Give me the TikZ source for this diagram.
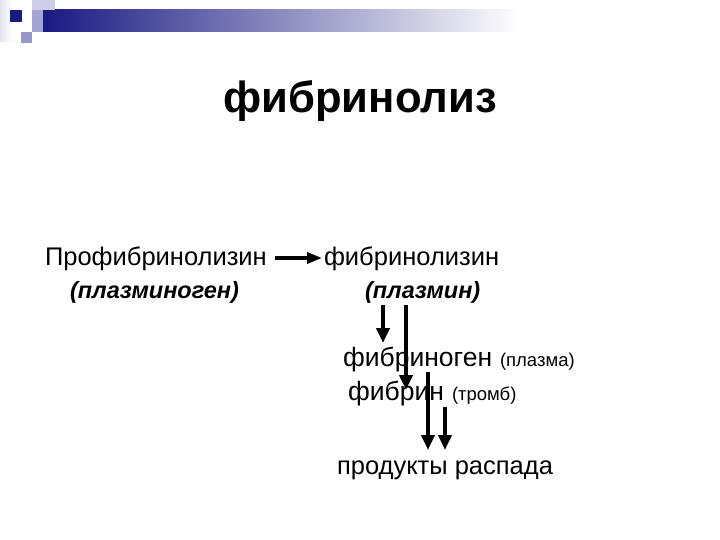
\documentclass[tikz,border=0pt]{standalone}
\usepackage{fontspec}
\setmainfont{Liberation Sans}
\usetikzlibrary{arrows.meta}
\definecolor{navy}{RGB}{25,25,130}
\definecolor{lav1}{RGB}{205,205,232}
\definecolor{lav2}{RGB}{165,165,212}
\definecolor{lav3}{RGB}{150,150,200}
\definecolor{lav0}{RGB}{228,228,242}
\tikzset{
  txt/.style={anchor=base west, inner sep=0pt, outer sep=0pt, text=black},
  big/.style={txt, font=\fontsize{25.5}{28}\selectfont},
  bigger/.style={txt, font=\fontsize{26.5}{30}\selectfont},
  bigi/.style={txt, font=\fontsize{23.5}{26}\selectfont\bfseries\itshape},
  small/.style={txt, font=\fontsize{18.5}{22}\selectfont},
  arr/.style={line width=4.8pt, -{Triangle[length=15pt,width=13pt]}},
}
\begin{document}
\begin{tikzpicture}[x=1pt,y=-1pt]
\useasboundingbox (0,0) rectangle (720,540);
% header decoration
\shade[left color=lav0, right color=white] (0,0) rectangle (12,42);
\shade[left color=navy, right color=white] (43,10) rectangle (520,32);
\fill[lav1] (32,0) rectangle (55,10);
\fill[lav2] (32,10) rectangle (43,32);
\fill[navy] (10,10) rectangle (22,22);
\fill[lav3] (21,32) rectangle (32,43);
% title
\node[txt, font=\fontsize{43.6}{50}\selectfont\bfseries, anchor=base] (title) at (360,113) {фибринолиз};
% texts
\node[big] (pro) at (45,265) {Профибринолизин};
\node[bigi] (plg) at (70,298) {(плазминоген)};
\node[big] (fbl) at (324,265) {фибринолизин};
\node[bigi] (plm) at (365,298) {(плазмин)};
\node[bigger] (fbg) at (343,366) {фибриноген};
\node[small] (pls) at (500,366) {(плазма)};
\node[bigger] (fbn) at (348,400) {фибрин};
\node[small] (trb) at (452,400) {(тромб)};
\node[big] (prd) at (337,474) {продукты распада};
% connectors
\coordinate (a0) at (275,258);
\coordinate (a1) at (322,258);
\draw[line width=3.5pt, -{Triangle[length=15pt,width=11pt]}] (a0) -- (a1);
\coordinate (b0) at (383,305); \coordinate (b1) at (383,343);
\coordinate (c0) at (406,305); \coordinate (c1) at (406,390);
\coordinate (d0) at (428,372); \coordinate (d1) at (428,450);
\coordinate (e0) at (445,407); \coordinate (e1) at (445,450);
\draw[arr] (b0) -- (b1);
\draw[arr] (c0) -- (c1);
\draw[arr] (d0) -- (d1);
\draw[arr] (e0) -- (e1);
\end{tikzpicture}
\end{document}
